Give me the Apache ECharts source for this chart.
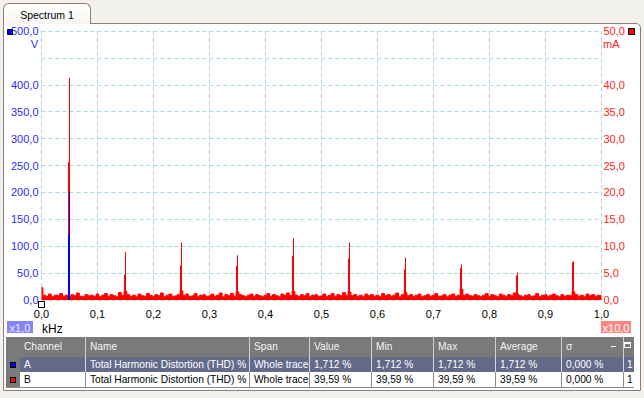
<!DOCTYPE html>
<html><head><meta charset="utf-8">
<script src="https://cdn.jsdelivr.net/npm/echarts@6/dist/echarts.min.js"></script>
<style>
html,body{margin:0;padding:0;background:#f3f1ed;width:644px;height:398px;overflow:hidden;font-family:"Liberation Sans",Arial,sans-serif;}
#tab{position:absolute;left:3px;top:3px;width:88px;height:21px;border:1px solid #8d7f76;border-bottom:none;border-radius:6px 6px 0 0;background:linear-gradient(#ffffff,#f7f6f4);font-size:10.5px;line-height:22px;text-align:center;color:#000;z-index:2;box-sizing:border-box;}
#panel{position:absolute;left:3px;top:23px;width:638px;height:368px;border:1px solid #8d7f76;border-radius:0 5px 0 0;background:#fff;box-sizing:border-box;z-index:0;}
#chart{position:absolute;left:0;top:0;width:644px;height:398px;z-index:1;}
#table{position:absolute;left:0;top:0;z-index:3;}
.cell{position:absolute;box-sizing:border-box;font-size:10.2px;white-space:nowrap;overflow:hidden;padding-left:4px;}
</style></head>
<body>
<div id="panel"></div>
<div id="tab">Spectrum 1</div>
<div id="chart"></div>
<div id="table"></div>
<script>
// ---------------- data ----------------
const freqStep = 0.005;          // kHz between drawn noise-floor bins
const binWidth = 0.00179;        // kHz, FFT bin spacing (pair of bins at each harmonic)
const hiddenLeftTick = 450;      // tick label replaced by the unit "V"
const hiddenRightTick = 45;      // tick label replaced by the unit "mA"
// Channel B (mA) noise floor, bins from 0 to 1 kHz
const noiseB = [
 2.3,0.9,0.7,1.1,0.6,0.9,0.8,1.2,0.7,0.9,
 0.6,1.0,0.8,1.3,0.7,0.6,1.0,0.8,0.9,0.7,
 1.1,0.6,0.9,1.2,0.7,1.0,0.8,0.6,1.4,0.9,
 1.6,1.0,0.7,0.9,0.6,1.1,0.8,0.7,1.2,0.9,
 0.7,1.0,0.8,1.3,0.6,0.9,1.1,0.7,0.8,1.0,
 1.7,0.9,1.1,0.7,0.8,1.2,0.6,0.9,1.0,0.7,
 0.8,1.1,0.7,0.9,1.3,0.6,1.0,0.8,1.2,0.7,
 1.5,1.0,0.8,0.6,0.9,1.1,0.7,1.0,0.8,0.6,
 0.9,1.2,0.7,1.0,0.8,0.6,1.1,0.9,1.3,0.8,
 1.6,0.9,0.7,1.0,0.8,1.2,0.6,0.9,1.0,0.7,
 0.8,1.1,0.6,0.9,1.2,0.7,1.0,0.8,1.4,0.9,
 1.5,0.8,1.0,0.7,0.9,0.6,1.1,0.8,1.0,0.7,
 0.9,0.6,1.2,0.8,1.0,0.7,0.9,1.3,0.6,1.0,
 1.4,0.8,1.0,0.7,0.9,1.1,0.6,0.8,1.0,0.7,
 0.9,1.2,0.7,0.8,1.0,0.6,0.9,1.1,0.7,0.9,
 2.0,0.9,1.1,0.8,0.7,1.0,0.8,0.6,0.9,1.2,
 0.7,1.0,0.8,0.6,1.1,0.9,0.7,1.0,0.8,1.3,
 1.1,0.8,0.6,0.9,1.0,0.7,0.8,1.2,0.6,0.9,
 1.0,0.7,0.9,1.1,0.8,0.6,1.0,0.7,0.9,0.8,
 1.5,1.0,0.7,0.9,0.6,1.1,0.8,1.0,0.7,0.9,
 0.8
];
// Harmonic peaks of channel B (mA): lower bin and peak bin
const harmonicFreqs = [0.05, 0.15, 0.25, 0.35, 0.45, 0.55, 0.65, 0.75, 0.85, 0.95];
const harmonicBLow  = [25.6, 4.7, 6.4, 6.3, 8.2, 7.7, 5.7, 5.9, 4.6, 7.0];
const harmonicBPeak = [41.3, 8.9, 10.7, 8.3, 11.5, 10.7, 7.9, 6.6, 5.1, 7.2];
// Channel A (V): fundamental only
const fundamentalAFreq = 0.05;
const fundamentalALow = 121;
const fundamentalAPeak = 201;

// table
const tableHeader = ['Channel', 'Name', 'Span', 'Value', 'Min', 'Max', 'Average', 'σ', ''];
const rowA = ['A', 'Total Harmonic Distortion (THD) %', 'Whole trace', '1,712 %', '1,712 %', '1,712 %', '1,712 %', '0,000 %', '1'];
const rowB = ['B', 'Total Harmonic Distortion (THD) %', 'Whole trace', '39,59 %', '39,59 %', '39,59 %', '39,59 %', '0,000 %', '1'];

// ---------------- chart ----------------
const fmt = v => v.toFixed(1).replace('.', ',');
const FONT = '"Liberation Sans", Arial, sans-serif';
const noiseData = noiseB.map((v, i) => [+(i * freqStep).toFixed(4), v]);
const redBars = [];
harmonicFreqs.forEach((f, i) => {
  redBars.push([f - binWidth, harmonicBLow[i]]);
  redBars.push([f, harmonicBPeak[i]]);
});
const blueBars = [[fundamentalAFreq - binWidth, fundamentalALow], [fundamentalAFreq, fundamentalAPeak]];

function binRenderer(color) {
  return function (params, api) {
    const top = api.coord([api.value(0), api.value(1)]);
    const base = api.coord([api.value(0), 0]);
    const x = Math.floor(top[0]);
    return {type: 'rect', shape: {x: x, y: top[1], width: 1, height: base[1] - top[1]},
            style: {fill: color, stroke: null}};
  };
}

const chart = echarts.init(document.getElementById('chart'), null, {renderer: 'svg'});
const grid = '#a8d6e4';
chart.setOption({
  animation: false,
  backgroundColor: 'transparent',
  grid: {left: 41.5, right: 42.5, top: 31, bottom: 98, containLabel: false, outerBoundsMode: 'none'},
  xAxis: {
    type: 'value', min: 0, max: 1, interval: 0.1,
    axisLine: {show: false}, axisTick: {show: false},
    axisLabel: {color: '#000', fontSize: 11, fontFamily: FONT, margin: 8, formatter: fmt},
    splitLine: {show: true, lineStyle: {color: grid, type: [4, 3], width: 1}}
  },
  yAxis: [
    {type: 'value', min: 0, max: 500, interval: 50, position: 'left',
     axisLine: {show: false}, axisTick: {show: false},
     axisLabel: {color: '#2a2aff', fontSize: 11, fontFamily: FONT, margin: 3,
                 formatter: v => v === hiddenLeftTick ? '' : fmt(v)},
     splitLine: {show: true, lineStyle: {color: grid, type: [4, 3], width: 1}}},
    {type: 'value', min: 0, max: 50, interval: 5, position: 'right',
     axisLine: {show: false}, axisTick: {show: false},
     axisLabel: {color: '#ff2222', fontSize: 11, fontFamily: FONT, margin: 2,
                 formatter: v => v === hiddenRightTick ? '' : fmt(v)},
     splitLine: {show: false}}
  ],
  series: [
    {type: 'line', name: 'B noise', yAxisIndex: 1, data: noiseData, step: 'middle',
     symbol: 'none', lineStyle: {color: '#ff0000', width: 1}, areaStyle: {color: '#ff0000', opacity: 1}, z: 2},
    {type: 'custom', name: 'B', yAxisIndex: 1, data: redBars, renderItem: binRenderer('#ff0000'), z: 3},
    {type: 'custom', name: 'A', yAxisIndex: 0, data: blueBars, renderItem: binRenderer('#0000ff'), z: 4}
  ],
  graphic: [
    {type: 'text', z: 10, style: {x: 38, y: 44, text: 'V', fill: '#2a2aff', font: '11px ' + FONT, textAlign: 'right', align: 'right', textVerticalAlign: 'middle', verticalAlign: 'middle'}},
    {type: 'text', z: 10, style: {x: 603, y: 44, text: 'mA', fill: '#ff2222', font: '11px ' + FONT, textAlign: 'left', align: 'left', textVerticalAlign: 'middle', verticalAlign: 'middle'}},
    {type: 'rect', z: 10, shape: {x: 7.5, y: 29.5, width: 5, height: 5}, style: {fill: '#0000ff', stroke: '#000', lineWidth: 1}},
    {type: 'rect', z: 10, shape: {x: 628.5, y: 28.5, width: 6, height: 6}, style: {fill: '#ff0000', stroke: '#000', lineWidth: 1}},
    {type: 'rect', z: 10, shape: {x: 38.5, y: 301.5, width: 6, height: 6}, style: {fill: '#fff', stroke: '#000', lineWidth: 1}},
    {type: 'rect', z: 10, shape: {x: 7, y: 321, width: 26, height: 12}, style: {fill: '#8484ff'}},
    {type: 'text', z: 11, style: {x: 20, y: 327.5, text: 'x1,0', fill: '#ececff', font: '11px ' + FONT, textAlign: 'center', align: 'center', textVerticalAlign: 'middle', verticalAlign: 'middle'}},
    {type: 'rect', z: 10, shape: {x: 601, y: 321, width: 30, height: 12}, style: {fill: '#ff8585'}},
    {type: 'text', z: 11, style: {x: 616, y: 327.5, text: 'x10,0', fill: '#ffffff', font: '11px ' + FONT, textAlign: 'center', align: 'center', textVerticalAlign: 'middle', verticalAlign: 'middle'}},
    {type: 'text', z: 10, style: {x: 42, y: 328.5, text: 'kHz', fill: '#000', font: '12px ' + FONT, textAlign: 'left', align: 'left', textVerticalAlign: 'middle', verticalAlign: 'middle'}}
  ]
});

// ---------------- table ----------------
const colX = [20, 85, 249, 309, 371, 433, 495, 561, 623, 634];
const rowsY = [[337, 20], [357, 15], [372, 16]];
const tbl = document.getElementById('table');
function cell(x, y, w, h, text, bg, color, sep) {
  const d = document.createElement('div');
  d.className = 'cell';
  d.style.left = x + 'px'; d.style.top = y + 'px';
  d.style.width = w + 'px'; d.style.height = h + 'px';
  d.style.lineHeight = h + 'px';
  d.style.background = bg; d.style.color = color;
  if (sep) d.style.borderLeft = '1px solid ' + sep;
  d.textContent = text;
  tbl.appendChild(d);
  return d;
}
cell(6, 337, 14, 51, '', '#7a7a7a', '#fff', null);
const rowsData = [tableHeader, rowA, rowB];
const styles = [
  {bg: '#7a7a7a', color: '#f4f4f4', sep: '#d0d0d0'},
  {bg: '#646b8a', color: '#ffffff', sep: '#d8d8e0'},
  {bg: '#ffffff', color: '#000000', sep: '#8a8a8a'}
];
rowsData.forEach((row, r) => {
  const [y, h] = rowsY[r];
  row.forEach((t, c) => {
    const x = colX[c], w = colX[c + 1] - colX[c];
    const d = cell(x, y, w, h, t, styles[r].bg, styles[r].color, c > 0 ? styles[r].sep : null);
    if (c === 8) d.style.paddingLeft = '3px';
  });
});
cell(6, 387, 628, 1, '', '#8a8a8a', '#000', null);
[['#0000ff', 362], ['#ff0000', 377]].forEach(([col, y]) => {
  const s = document.createElement('div');
  s.style.cssText = 'position:absolute;left:10px;top:' + y + 'px;width:6px;height:6px;box-sizing:border-box;border:1px solid #000;background:' + col + ';';
  tbl.appendChild(s);
});
const minus = document.createElement('div');
minus.style.cssText = 'position:absolute;left:611px;top:346px;width:5px;height:1px;background:#fff;';
tbl.appendChild(minus);
const box = document.createElement('div');
box.style.cssText = 'position:absolute;left:624px;top:342px;width:7px;height:6px;box-sizing:border-box;border:1px solid #fff;border-top-width:2px;';
tbl.appendChild(box);
</script>
</body></html>
